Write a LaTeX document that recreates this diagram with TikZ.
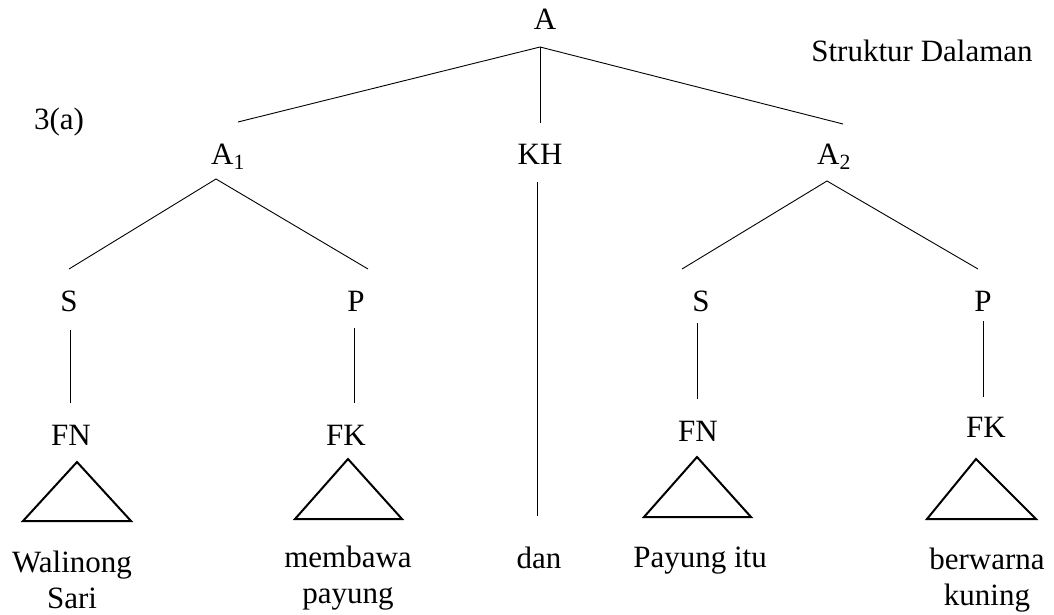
\documentclass[tikz,border=0pt]{standalone}
\usepackage{fontspec}
\setmainfont{Liberation Serif}
\begin{document}
\begin{tikzpicture}[x=1pt,y=-1pt,
  lbl/.style={anchor=base,inner sep=0pt,align=center,font=\fontsize{31}{36}\selectfont},
  edge/.style={line width=0.9pt},
  tri/.style={line width=2pt,line join=miter}]
\useasboundingbox (0,0) rectangle (1054,615);
% labels
\node[lbl] (A) at (545,30) {A};
\node[lbl] (title) at (922,62) {Struktur Dalaman};
\node[lbl] (num) at (59,130) {3(a)};
\node[lbl] (A1) at (228,164) {A\textsubscript{1}};
\node[lbl] (KH) at (540,164) {KH};
\node[lbl] (A2) at (834,164) {A\textsubscript{2}};
\node[lbl] (S1) at (69,311) {S};
\node[lbl] (P1) at (356,311) {P};
\node[lbl] (S2) at (701,311) {S};
\node[lbl] (P2) at (983,311) {P};
\node[lbl] (FN1) at (71,445) {FN};
\node[lbl] (FK1) at (346,445) {FK};
\node[lbl] (FN2) at (698,441) {FN};
\node[lbl] (FK2) at (986,437) {FK};
\node[lbl] (w1) at (72,608) {Walinong\\Sari};
\node[lbl] (w2) at (348,603) {membawa\\payung};
\node[lbl] (w3) at (539,568) {dan};
\node[lbl] (w4) at (700,567) {Payung itu};
\node[lbl] (w5) at (987,605) {berwarna\\kuning};
% connector ends
\coordinate (Ab) at (540,47);
\coordinate (A1t) at (238,122);
\coordinate (KHt) at (540,123);
\coordinate (A2t) at (843,124);
\coordinate (A1b) at (216,179);
\coordinate (S1t) at (69,269);
\coordinate (P1t) at (368,269);
\coordinate (KHb) at (537,182);
\coordinate (w3t) at (537,516);
\coordinate (A2b) at (827,181);
\coordinate (S2t) at (682,269);
\coordinate (P2t) at (978,269);
\coordinate (S1b) at (70.5,330);
\coordinate (FN1t) at (70.5,403);
\coordinate (P1b) at (354,328);
\coordinate (FK1t) at (354,403);
\coordinate (S2b) at (697,323);
\coordinate (FN2t) at (697,399);
\coordinate (P2b) at (983,321);
\coordinate (FK2t) at (983,397);
% tree edges
\draw[edge] (A1t) -- (Ab) -- (A2t);
\draw[edge] (Ab) -- (KHt);
\draw[edge] (S1t) -- (A1b) -- (P1t);
\draw[edge] (KHb) -- (w3t);
\draw[edge] (S2t) -- (A2b) -- (P2t);
\draw[edge] (S1b) -- (FN1t);
\draw[edge] (P1b) -- (FK1t);
\draw[edge] (S2b) -- (FN2t);
\draw[edge] (P2b) -- (FK2t);
% triangles
\draw[tri] (77,462) -- (131,521) -- (23,521) -- cycle;
\draw[tri] (348,459) -- (402,519) -- (295,519) -- cycle;
\draw[tri] (697,457) -- (751,517) -- (644,517) -- cycle;
\draw[tri] (976,459) -- (1036,519) -- (927,519) -- cycle;
\end{tikzpicture}
\end{document}
